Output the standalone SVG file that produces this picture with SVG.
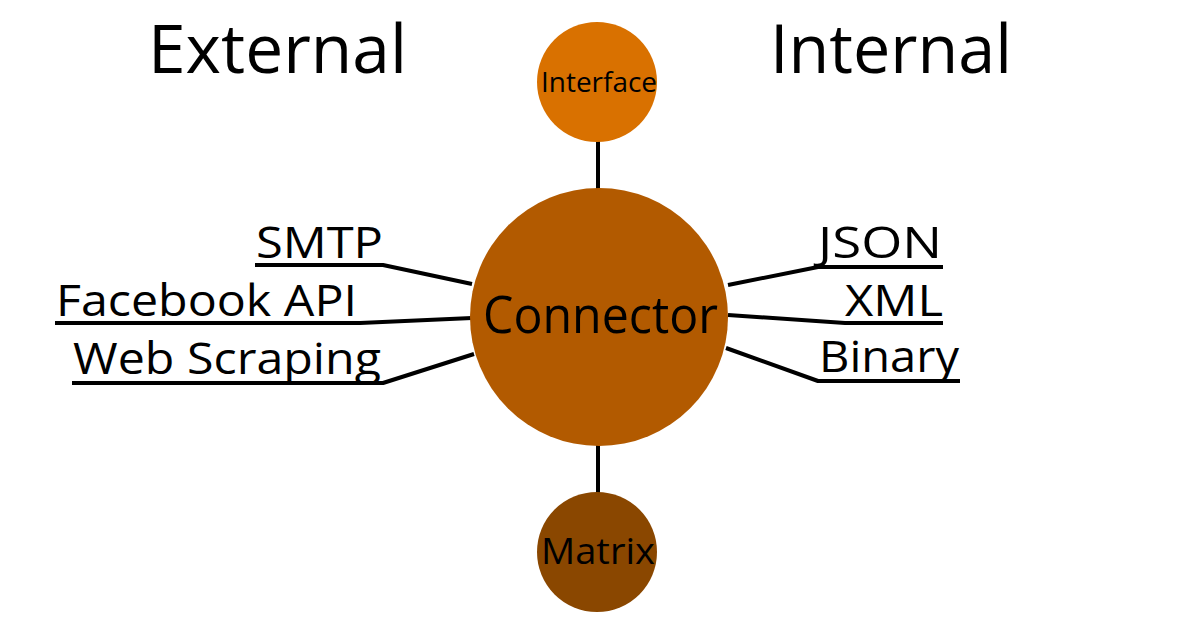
<svg xmlns="http://www.w3.org/2000/svg" width="1200" height="630" viewBox="0 0 1200 630">
<style>
  text { font-family: "Open Sans", "DejaVu Sans", sans-serif; fill: #000; }
  .edge { stroke: #000; stroke-width: 4; fill: none; stroke-linejoin: round; }
  .title { font-size: 67px; }
  .lbl { font-size: 44px; }
</style>
<rect width="1200" height="630" fill="#ffffff"/>
<g id="connectors">
  <line class="edge" x1="598" y1="140" x2="598" y2="190"/>
  <line class="edge" x1="598" y1="444" x2="598" y2="494"/>
  <polyline class="edge" points="255,265 383,265 472,284"/>
  <polyline class="edge" points="55,323 360,323 472,318"/>
  <polyline class="edge" points="72,383 383,383 474,354"/>
  <polyline class="edge" points="943,267 818,267 728,285"/>
  <polyline class="edge" points="943,323 845,323 728,315"/>
  <polyline class="edge" points="960,381 818,381 726,348"/>
</g>
<g id="title-external"><text class="title" x="148" y="73" textLength="259" lengthAdjust="spacingAndGlyphs">External</text></g>
<g id="title-internal"><text class="title" x="770" y="73" textLength="242" lengthAdjust="spacingAndGlyphs">Internal</text></g>
<g id="node-interface">
  <circle cx="597" cy="82" r="60" fill="#D97100"/>
  <text x="541" y="92" font-size="27" textLength="116" lengthAdjust="spacingAndGlyphs">Interface</text>
</g>
<g id="node-connector">
  <circle cx="599" cy="317" r="129" fill="#B25A00"/>
  <text x="483" y="333" font-size="52" textLength="235" lengthAdjust="spacingAndGlyphs">Connector</text>
</g>
<g id="node-matrix">
  <circle cx="597" cy="552" r="60" fill="#8A4700"/>
  <text x="541" y="564" font-size="36" textLength="114" lengthAdjust="spacingAndGlyphs">Matrix</text>
</g>
<g id="label-smtp"><text class="lbl" x="256" y="258" textLength="127" lengthAdjust="spacingAndGlyphs">SMTP</text></g>
<g id="label-facebook"><text class="lbl" x="56" y="316" textLength="301" lengthAdjust="spacingAndGlyphs">Facebook API</text></g>
<g id="label-webscraping"><text class="lbl" x="73" y="374" textLength="308" lengthAdjust="spacingAndGlyphs">Web Scraping</text></g>
<g id="label-json"><text class="lbl" x="818" y="258" textLength="124" lengthAdjust="spacingAndGlyphs">JSON</text></g>
<g id="label-xml"><text class="lbl" x="845" y="316" textLength="98" lengthAdjust="spacingAndGlyphs">XML</text></g>
<g id="label-binary"><text class="lbl" x="819" y="372" textLength="140" lengthAdjust="spacingAndGlyphs">Binary</text></g>
</svg>
